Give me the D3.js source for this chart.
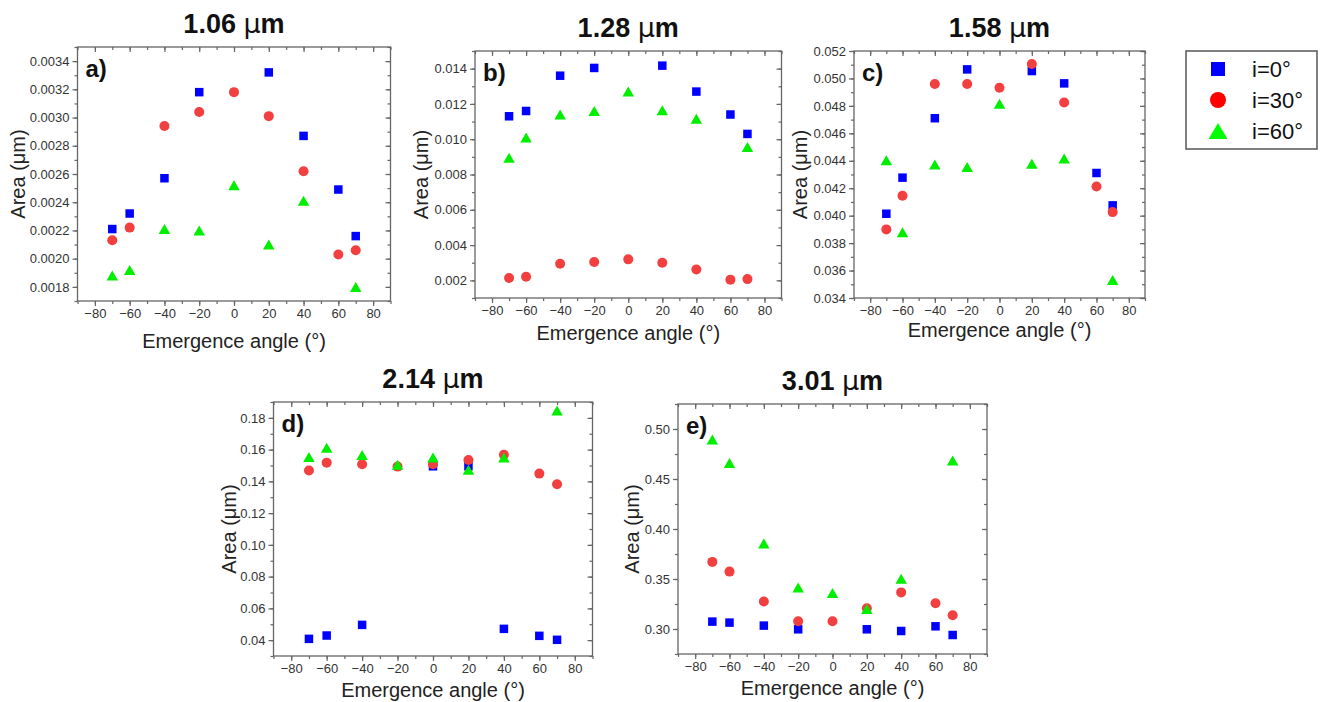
<!DOCTYPE html>
<html>
<head>
<meta charset="utf-8">
<script src="https://cdn.jsdelivr.net/npm/d3@7"></script>
<style>
  body { margin: 0; background: #fff; }
  text { font-family: "Liberation Sans", Arial, sans-serif; }
</style>
</head>
<body>
<div id="vis"></div>
<script>
// emergence angles shared by all panels
let angles = [-70, -60, -40, -20, 0, 20, 40, 60, 70];
let xTicks = [-80, -60, -40, -20, 0, 20, 40, 60, 80];

// a) 1.06 um
let aBlue  = [0.00221, 0.00232, 0.00257, 0.00318, null, 0.00332, 0.00287, 0.00249, 0.00216];
let aRed   = [0.00213, 0.00222, 0.00294, 0.00304, 0.00318, 0.00301, 0.00262, 0.00203, 0.00206];
let aGreen = [0.00188, 0.00192, 0.00221, 0.00220, 0.00252, 0.00210, 0.00241, null, 0.00180];
let aTicks = [0.0018, 0.0020, 0.0022, 0.0024, 0.0026, 0.0028, 0.0030, 0.0032, 0.0034];

// b) 1.28 um
let bBlue  = [0.0113, 0.0116, 0.0136, 0.01404, null, 0.01417, 0.0127, 0.0114, 0.0103];
let bRed   = [0.00213, 0.0022, 0.00294, 0.00304, 0.00319, 0.0030, 0.00262, 0.00204, 0.00207];
let bGreen = [0.00895, 0.0101, 0.0114, 0.0116, 0.0127, 0.01164, 0.01116, null, 0.00956];
let bTicks = [0.002, 0.004, 0.006, 0.008, 0.010, 0.012, 0.014];

// c) 1.58 um
let cBlue  = [0.04014, 0.04277, 0.0471, 0.05066, null, 0.05054, 0.04964, 0.04311, 0.04075];
let cRed   = [0.0390, 0.04145, 0.04959, 0.04959, 0.04932, 0.05105, 0.04825, 0.04213, 0.04026];
let cGreen = [0.04403, 0.0388, 0.04372, 0.04355, 0.04815, 0.04379, 0.04416, null, 0.03531];
let cTicks = [0.034, 0.036, 0.038, 0.040, 0.042, 0.044, 0.046, 0.048, 0.050, 0.052];

// d) 2.14 um
let dBlue  = [0.0408, 0.0429, 0.0496, null, 0.1495, 0.1495, 0.0471, 0.0427, 0.0402];
let dRed   = [0.1468, 0.1518, 0.1508, 0.1493, 0.1508, 0.1535, 0.1568, 0.1449, 0.1382];
let dGreen = [0.1553, 0.1612, 0.1566, 0.1505, 0.1551, 0.1474, 0.1551, null, 0.1846];
let dTicks = [0.04, 0.06, 0.08, 0.10, 0.12, 0.14, 0.16, 0.18];

// e) 3.01 um
let eBlue  = [0.3074, 0.3064, 0.3034, 0.2997, null, 0.2997, 0.298, 0.3027, 0.294];
let eRed   = [0.3671, 0.3574, 0.3275, 0.3077, 0.3077, 0.3208, 0.3366, 0.3258, 0.3138];
let eGreen = [0.4896, 0.4661, 0.3856, 0.3416, 0.3359, 0.3201, 0.3503, null, 0.4685];
let eTicks = [0.30, 0.35, 0.40, 0.45, 0.50];

let seriesNames = ['i=0°', 'i=30°', 'i=60°'];

let width = 1328, height = 702;

let svg = d3.select('#vis')
    .append('svg')
    .attr('width', width)
    .attr('height', height)
    .attr('viewBox', [0, 0, width, height].join(' '));

let axisColor = '#666';

let panels = [
    {title: '1.06', tag: 'a)', left: 77.5, right: 390.5, top: 47, bottom: 301, yDom: [0.0017, 0.0035],
     ticks: aTicks, digits: 4, minorStep: 0.0001, data: [aBlue, aRed, aGreen], yLabDx: 59.5, xLabDy: 47},
    {title: '1.28', tag: 'b)', left: 475, right: 781.5, top: 51, bottom: 298, yDom: [0.001, 0.015],
     ticks: bTicks, digits: 3, minorStep: 0.001, data: [bBlue, bRed, bGreen], yLabDx: 54, xLabDy: 42},
    {title: '1.58', tag: 'c)', left: 854, right: 1145, top: 51, bottom: 298, yDom: [0.034, 0.052],
     ticks: cTicks, digits: 3, minorStep: 0.001, data: [cBlue, cRed, cGreen], yLabDx: 54, xLabDy: 39},
    {title: '2.14', tag: 'd)', left: 273.5, right: 592.5, top: 402, bottom: 656, yDom: [0.03, 0.19],
     ticks: dTicks, digits: 2, minorStep: 0.01, data: [dBlue, dRed, dGreen], yLabDx: 45, xLabDy: 41},
    {title: '3.01', tag: 'e)', left: 678, right: 987, top: 404, bottom: 654, yDom: [0.275, 0.525],
     ticks: eTicks, digits: 2, minorStep: 0.025, data: [eBlue, eRed, eGreen], yLabDx: 46, xLabDy: 41}
];

function drawSquare(g, x, y, s, color) {
    g.append('rect')
        .attr('x', x - s / 2).attr('y', y - s / 2)
        .attr('width', s).attr('height', s)
        .attr('fill', color);
}

function drawCircle(g, x, y, r, color) {
    g.append('circle').attr('cx', x).attr('cy', y).attr('r', r).attr('fill', color);
}

function drawTriangle(g, x, y, w, h, color) {
    g.append('path')
        .attr('d', `M${x},${y - h / 2}L${x + w / 2},${y + h / 2}L${x - w / 2},${y + h / 2}Z`)
        .attr('fill', color);
}

function minorTicks(dom, step) {
    let out = [];
    let start = Math.ceil(dom[0] / step - 1e-9);
    let end = Math.floor(dom[1] / step + 1e-9);
    for (let i = start; i <= end; i++) out.push(+(i * step).toFixed(6));
    return out;
}

function styleAxis(g) {
    g.select('.domain').remove();
    g.selectAll('line').attr('stroke', axisColor).attr('stroke-width', 1.2);
    g.selectAll('text').attr('fill', '#333').style('font-size', '13px')
        .style('font-family', '"Liberation Sans", Arial, sans-serif');
}

panels.forEach(function(p) {
    let x = d3.scaleLinear().domain([-90, 90]).range([p.left, p.right]);
    let y = d3.scaleLinear().domain(p.yDom).range([p.bottom, p.top]);
    let g = svg.append('g');

    let xMinor = minorTicks([-90, 90], 10);
    let yMinor = minorTicks(p.yDom, p.minorStep);

    // minor ticks (no labels)
    g.append('g').attr('transform', `translate(0,${p.bottom})`)
        .call(d3.axisBottom(x).tickValues(xMinor).tickSize(3).tickFormat(''))
        .call(styleAxis);
    g.append('g').attr('transform', `translate(${p.left},0)`)
        .call(d3.axisLeft(y).tickValues(yMinor).tickSize(3).tickFormat(''))
        .call(styleAxis);
    g.append('g').attr('transform', `translate(0,${p.top})`)
        .call(d3.axisTop(x).tickValues(xMinor).tickSize(-3).tickFormat(''))
        .call(styleAxis);
    g.append('g').attr('transform', `translate(${p.right},0)`)
        .call(d3.axisRight(y).tickValues(yMinor).tickSize(-3).tickFormat(''))
        .call(styleAxis);

    // major ticks
    g.append('g').attr('transform', `translate(0,${p.bottom})`)
        .call(d3.axisBottom(x).tickValues(xTicks).tickSize(5).tickPadding(3).tickFormat(d3.format('d')))
        .call(styleAxis);
    g.append('g').attr('transform', `translate(${p.left},0)`)
        .call(d3.axisLeft(y).tickValues(p.ticks).tickSize(5).tickPadding(3).tickFormat(d3.format('.' + p.digits + 'f')))
        .call(styleAxis);
    g.append('g').attr('transform', `translate(0,${p.top})`)
        .call(d3.axisTop(x).tickValues(xTicks).tickSize(-5).tickFormat(''))
        .call(styleAxis);
    g.append('g').attr('transform', `translate(${p.right},0)`)
        .call(d3.axisRight(y).tickValues(p.ticks).tickSize(-5).tickFormat(''))
        .call(styleAxis);

    // frame
    g.append('rect')
        .attr('x', p.left).attr('y', p.top)
        .attr('width', p.right - p.left).attr('height', p.bottom - p.top)
        .attr('fill', 'none').attr('stroke', axisColor).attr('stroke-width', 1.3);

    // markers: squares, circles, triangles
    let marks = g.append('g');
    angles.forEach(function(a, i) {
        let v = p.data[0][i];
        if (v != null) drawSquare(marks, x(a), y(v), 8.5, '#0000ff');
    });
    angles.forEach(function(a, i) {
        let v = p.data[1][i];
        if (v != null) drawCircle(marks, x(a), y(v), 5, '#f23f3f');
    });
    angles.forEach(function(a, i) {
        let v = p.data[2][i];
        if (v != null) drawTriangle(marks, x(a), y(v), 11.5, 10, '#00ee00');
    });

    // panel tag
    g.append('text')
        .attr('x', p.left + 8).attr('y', p.top + 30)
        .style('font-size', '24px').style('font-weight', 'bold').attr('fill', '#111')
        .text(p.tag);

    // title
    let title = g.append('text')
        .attr('x', (p.left + p.right) / 2).attr('y', p.top - 14)
        .attr('text-anchor', 'middle')
        .style('font-size', '27px').style('font-weight', 'bold').attr('fill', '#111');
    title.append('tspan').text(p.title + ' ');
    title.append('tspan').style('font-weight', 'normal').style('font-family', '"DejaVu Sans", sans-serif').text('μ');
    title.append('tspan').text('m');

    // axis labels
    g.append('text')
        .attr('x', (p.left + p.right) / 2).attr('y', p.bottom + p.xLabDy)
        .attr('text-anchor', 'middle')
        .style('font-size', '20px').attr('fill', '#222')
        .text('Emergence angle (°)');
    g.append('text')
        .attr('transform', `translate(${p.left - p.yLabDx + 7},${(p.top + p.bottom) / 2}) rotate(-90)`)
        .attr('text-anchor', 'middle')
        .style('font-size', '20px').attr('fill', '#222')
        .text('Area (μm)');
});

// legend
let leg = svg.append('g');
leg.append('rect')
    .attr('x', 1186).attr('y', 51).attr('width', 131).attr('height', 98)
    .attr('fill', '#fff').attr('stroke', '#555').attr('stroke-width', 1.5);
let legColors = ['#0000ff', '#ff0000', '#00ff00'];
seriesNames.forEach(function(name, i) {
    let cy = 69 + i * 31;
    if (i === 0) drawSquare(leg, 1218, cy, 14, legColors[i]);
    if (i === 1) drawCircle(leg, 1218, cy, 8, legColors[i]);
    if (i === 2) drawTriangle(leg, 1218, cy, 19, 16, legColors[i]);
    leg.append('text')
        .attr('x', 1252).attr('y', cy + 8)
        .style('font-size', '22px').attr('fill', '#111')
        .text(name);
});
</script>
</body>
</html>
